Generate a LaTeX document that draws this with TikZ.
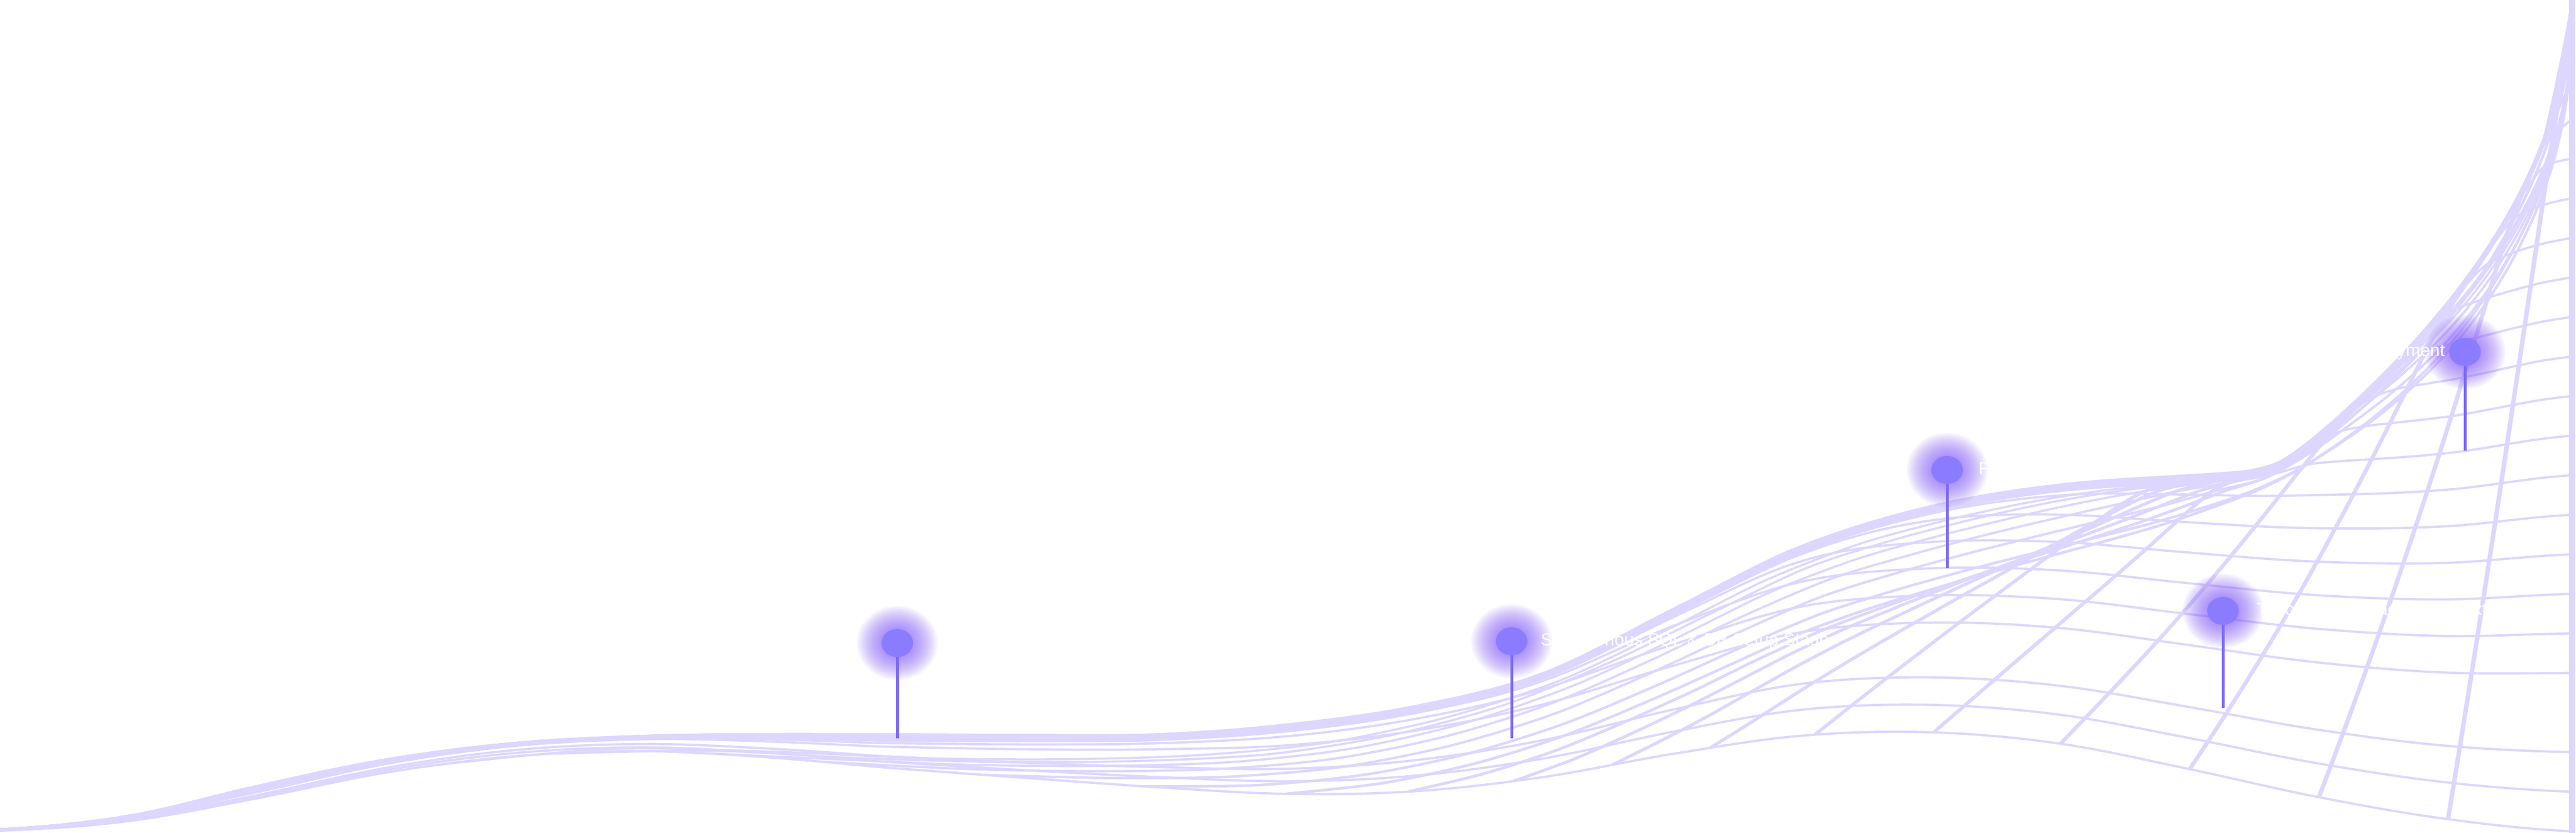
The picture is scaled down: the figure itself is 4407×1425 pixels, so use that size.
\documentclass[tikz,border=0pt]{standalone}
\usepackage{fontspec}
\setmainfont{Liberation Sans}
\usetikzlibrary{shapes.geometric}
\definecolor{meshc}{RGB}{221,214,254}
\definecolor{pinc}{RGB}{139,124,255}
\definecolor{stemc}{RGB}{124,106,246}
\definecolor{glowc}{RGB}{124,82,250}
\makeatletter
\def\Blist{{1421,1404,1364,1320,1292,1283,1293,1311,1328,1344,1356,1352,1328,1289,1258,1252,1271,1314,1362,1400,1422}}
\def\Elist{{1419,1396,1345,1300,1272,1260,1257,1258,1260,1260,1245,1215,1160,1055,950,882,845,830,822,815,810}}
\def\Slist{{0.5,1.5,3,4.5,6,7,8.5,11,14,18,22,27,32,38,44.5,47,49.5,53,57.5,62.5,67.714}}
\newcommand\crcalc[2]{%
  \pgfmathsetmacro\crx{max(0,min(#2,4399.9))/220}%
  \pgfmathtruncatemacro\cri{floor(\crx)}%
  \pgfmathsetmacro\crtt{\crx-\cri}%
  \pgfmathtruncatemacro\cra{max(\cri-1,0)}%
  \pgfmathtruncatemacro\crc{min(\cri+1,20)}%
  \pgfmathtruncatemacro\crd{min(\cri+2,20)}%
  \pgfmathsetmacro\cpa{#1[\cra]}%
  \pgfmathsetmacro\cpb{#1[\cri]}%
  \pgfmathsetmacro\cpc{#1[\crc]}%
  \pgfmathsetmacro\cpd{#1[\crd]}%
  \pgfmathparse{0.5*(2*\cpb+(\cpc-\cpa)*\crtt+(2*\cpa-5*\cpb+4*\cpc-\cpd)*\crtt*\crtt+(3*\cpb-\cpa-3*\cpc+\cpd)*\crtt*\crtt*\crtt)}%
}
\pgfmathdeclarefunction{bfun}{1}{\begingroup\crcalc{\Blist}{#1}\pgfmath@smuggleone\pgfmathresult\endgroup}
\pgfmathdeclarefunction{sfun}{1}{\begingroup\crcalc{\Slist}{#1}\pgfmath@smuggleone\pgfmathresult\endgroup}
\pgfmathdeclarefunction{efun}{1}{%
  \begingroup
  \crcalc{\Elist}{#1}\let\ecr\pgfmathresult
  \pgfmathsetmacro\esq{36.5*sqrt(max(4400-#1,0))}%
  \pgfmathsetmacro\edd{(\ecr-\esq)/200}%
  \pgfmathparse{(\ecr+\esq)/2-100*sqrt(\edd*\edd+0.0225)}%
  \pgfmath@smuggleone\pgfmathresult
  \endgroup}
\makeatother
% mesh height from bottom #1, envelope #2, row spacing #3, row parameter #4 -> \yres
\newcommand\ycalc[4]{%
  \pgfmathsetmacro\yR{#1-21*#3*#4}%
  \pgfmathsetmacro\yD{max(#1-#2,0)}%
  \pgfmathsetmacro\yEv{#2-min(15,0.05*\yD)*#4}%
  \pgfmathsetmacro\yK{min(15,0.3*\yD)/100}%
  \pgfmathsetmacro\yh{(\yR-\yEv)/200}%
  \pgfmathsetmacro\yres{(\yR+\yEv)/2+100*sqrt(\yh*\yh+\yK*\yK)}%
}
% precompute bottom, envelope and spacing every 50 px
\foreach \i in {0,...,88}{%
  \pgfmathsetmacro\xx{50*\i}%
  \pgfmathsetmacro\tmpv{bfun(\xx)}\expandafter\xdef\csname mB\i\endcsname{\tmpv}%
  \pgfmathsetmacro\tmpv{efun(\xx)}\expandafter\xdef\csname mE\i\endcsname{\tmpv}%
  \pgfmathsetmacro\tmpv{sfun(\xx)}\expandafter\xdef\csname mS\i\endcsname{\tmpv}%
}
\tikzset{
  rowline/.style={draw=meshc, line width=0.038cm},
  colline/.style={draw=meshc},
  edgeline/.style={draw=meshc, line width=0.095cm},
  stemline/.style={draw=stemc, line width=0.05cm},
  pinhead/.style={ellipse, fill=pinc, minimum width=0.54cm, minimum height=0.48cm, inner sep=0pt},
  lbl/.style={text=white, font=\fontsize{8.5pt}{10pt}\selectfont, inner sep=0pt},
  glowlayer/.style={fill=glowc, opacity=0.055},
}
\newcommand\glowat[1]{%
  \foreach \gs in {0,...,15}{%
    \pgfmathsetmacro\gr{0.27+0.028*\gs}%
    \pgfmathsetmacro\gry{0.92*\gr}%
    \fill[glowlayer] (#1) ellipse [x radius=\gr cm, y radius=\gry cm];
  }}
\begin{document}
\begin{tikzpicture}[x=0.01cm, y=-0.01cm]
\fill[white] (0,0) rectangle (4407,1425);
\useasboundingbox (0,0) rectangle (4407,1425);
% rows
\foreach \k in {0,1,2,4,5,...,21}{
  \pgfmathsetmacro\vv{\k/21}
  \gdef\rowpts{}
  \foreach \i in {0,...,88}{
    \ycalc{\csname mB\i\endcsname}{\csname mE\i\endcsname}{\csname mS\i\endcsname}{\vv}
    \pgfmathsetmacro\xx{50*\i}
    \xdef\rowpts{\rowpts (\xx,\yres)}
  }
  \draw[rowline] plot[smooth] coordinates {\rowpts};
}
% columns
\foreach \xc in {747,937,1158,1410,1684,1958,2200,2410,2589,2758,2926,3105,3308,3525,3746,3967,4188}{
  \pgfmathsetmacro\rr{1+1.6*min(1,max(0,(3100-\xc)/1000))}
  \pgfmathsetmacro\lw{0.034+0.046*(\xc/4400)^2}
  \gdef\colpts{}
  \foreach \ti in {0,...,32}{
    \pgfmathsetmacro\tq{\ti/32}
    \pgfmathsetmacro\xx{\xc+(4400-\xc)*(1-max(1-\tq,0.00001)^\rr)}
    \pgfmathsetmacro\ff{min(\xx/50,87.9999)}
    \pgfmathtruncatemacro\ii{floor(\ff)}
    \pgfmathsetmacro\fr{\ff-\ii}
    \pgfmathtruncatemacro\jj{\ii+1}
    \pgfmathsetmacro\cB{\csname mB\ii\endcsname+\fr*(\csname mB\jj\endcsname-\csname mB\ii\endcsname)}
    \pgfmathsetmacro\cS{\csname mS\ii\endcsname+\fr*(\csname mS\jj\endcsname-\csname mS\ii\endcsname)}
    \pgfmathsetmacro\cE{efun(\xx)}
    \ycalc{\cB}{\cE}{\cS}{\tq}
    \xdef\colpts{\colpts (\xx,\yres)}
  }
  \draw[colline, line width=\lw cm] plot[smooth] coordinates {\colpts};
}
\coordinate (eb) at (4400,1425);
\coordinate (et) at (4400,0);
\draw[edgeline] (eb) -- (et);
% pins
\coordinate (c1) at (1535,1100); \coordinate (s1) at (1535,1263);
\coordinate (c2) at (2586,1097); \coordinate (s2) at (2586,1263);
\coordinate (c3) at (3331,804);  \coordinate (s3) at (3331,972);
\coordinate (c4) at (3803,1045); \coordinate (s4) at (3803,1211);
\coordinate (c5) at (4217,602);  \coordinate (s5) at (4217,771);
\foreach \i in {1,...,5}{\glowat{c\i}}
\foreach \i in {1,...,5}{\draw[stemline] (c\i) -- (s\i);}
\foreach \i in {1,...,5}{\node[pinhead] (p\i) at (c\i) {};}
\node[lbl, anchor=west] (t2) at ([xshift=0.49cm]c2) {Synchronous SQL \& DB Setup Stage};
\node[lbl, anchor=west] (t3) at ([xshift=0.53cm]c3) {Frontend Integration};
\node[lbl, anchor=west] (t4) at ([xshift=0.57cm]c4) {Todo app with cached context};
\node[lbl, anchor=east] (t5) at ([xshift=-0.34cm]c5) {Deployment};
\end{tikzpicture}
\end{document}
